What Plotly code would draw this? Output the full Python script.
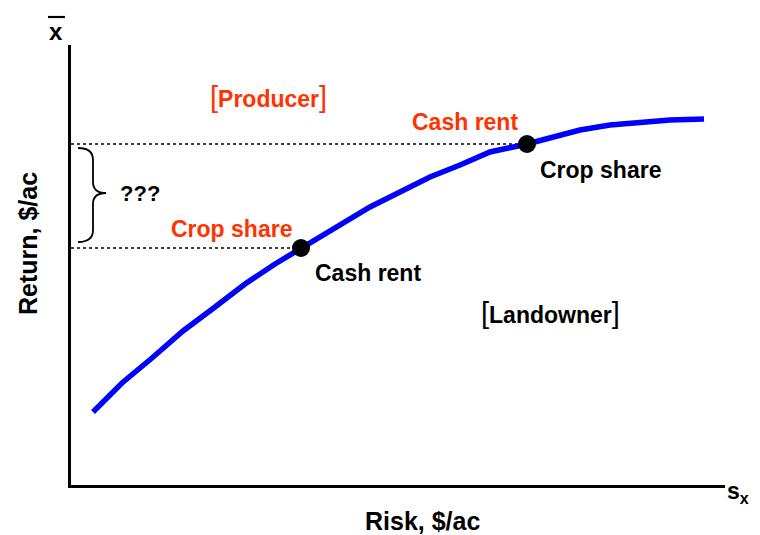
import plotly.graph_objects as go

# Frontier curve (risk vs return, arbitrary units)
risk = [22, 51, 81, 112, 144, 174, 204, 230, 269, 299, 329, 359, 389, 419, 456, 489, 509, 539, 569, 599, 633]
ret = [73, 102, 127, 154, 178, 201, 221, 237, 261, 278, 293, 308, 320, 333, 341, 350, 355, 360, 363, 365, 366]

# Two highlighted contract points
pt_risk = [230, 456]
pt_ret = [237, 341]

ORANGE = "#FF3300"
FONT = "Arial, Liberation Sans, sans-serif"

fig = go.Figure()
fig.add_trace(go.Scatter(x=risk, y=ret, mode="lines",
                         line=dict(color="#0000FF", width=5.5),
                         hoverinfo="skip"))
fig.add_trace(go.Scatter(x=pt_risk, y=pt_ret, mode="markers",
                         marker=dict(color="black", size=18), hoverinfo="skip"))

# dotted reference lines
for xr, yr in zip(pt_risk, pt_ret):
    fig.add_shape(type="line", x0=0, x1=xr, y0=yr, y1=yr,
                  line=dict(color="black", width=1.5, dash="dot"), layer="below")

# curly brace
fig.add_shape(type="path",
              path="M 7,337 Q 22,337 22,325 L 22,303 Q 22,292 35,292 Q 22,292 22,281 L 22,255 Q 22,243 7,243",
              line=dict(color="black", width=1.8))

def ann(x, y, text, color="black", size=23):
    fig.add_annotation(x=x, y=y, text=text, showarrow=False,
                       xanchor="center", yanchor="middle",
                       font=dict(family=FONT, size=size, color=color))

def bracketed(word):
    br = "<span style='font-size:29px'>%s</span>"
    return br % "[" + "<b>" + word + "</b>" + br % "]"

ann(69, 292, "<b>???</b>", size=22)
ann(160, 256, "<b>Crop share</b>", ORANGE)
ann(297, 212, "<b>Cash rent</b>")
ann(394, 363, "<b>Cash rent</b>", ORANGE)
ann(529, 315, "<b>Crop share</b>")
ann(197, 388, bracketed("Producer"), ORANGE)
ann(479, 172, bracketed("Landowner"), "black")

W, H = 760, 535
ML, MR, MT, MB = 63, 43, 37, 58
fig.update_layout(
    width=W, height=H,
    margin=dict(l=ML, r=MR, t=MT, b=MB),
    plot_bgcolor="white", paper_bgcolor="white",
    showlegend=False,
    xaxis=dict(range=[0, 654], showline=True, linecolor="black", linewidth=2.5,
               showgrid=False, zeroline=False, showticklabels=False, ticks="", fixedrange=True),
    yaxis=dict(range=[0, 440], showline=True, linecolor="black", linewidth=2.5,
               showgrid=False, zeroline=False, showticklabels=False, ticks="", fixedrange=True),
)

# helpers: reference page pixel -> paper coords (page has 8px body margin)
def px(xp):
    return (xp - 8 - ML) / (W - ML - MR)
def py(yp):
    return (H - MB - (yp - 8)) / (H - MT - MB)

def pann(x, y, text, size, angle=0):
    fig.add_annotation(x=px(x), y=py(y), xref="paper", yref="paper",
                       text=text, textangle=angle, showarrow=False,
                       xanchor="center", yanchor="middle",
                       font=dict(family=FONT, size=size, color="black"))

pann(28, 244, "<b>Return, $/ac</b>", 25, angle=-90)
pann(422, 521, "<b>Risk, $/ac</b>", 25)
pann(56, 31, "<b>x</b>", 24)
fig.add_shape(type="line", xref="paper", yref="paper",
              x0=px(48), x1=px(65), y0=py(17), y1=py(17),
              line=dict(color="black", width=2.2))
pann(738, 492, "<b>s<sub>x</sub></b>", 23)

fig.write_html("out.html")
